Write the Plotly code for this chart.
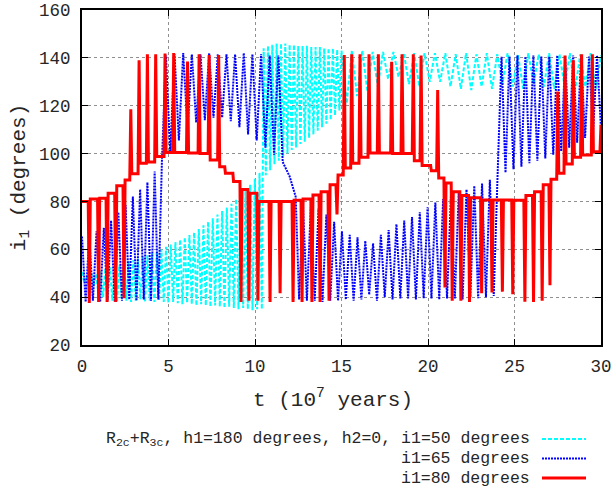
import plotly.graph_objects as go

# ---------------- data ----------------
x_ticks = [0, 5, 10, 15, 20, 25, 30]
y_ticks = [20, 40, 60, 80, 100, 120, 140, 160]

# i1 = 50 degrees (cyan): oscillation extremes per segment
cyan1_t0, cyan1_dt = 0.0, 0.135
cyan1_peaks = [50.5, 49, 50, 49.5, 51, 52, 52.5, 53, 53.5, 54, 55, 55.5, 56, 57, 57.5,
               58.5, 59, 60, 61, 62, 63, 64, 65, 66, 67, 68.5, 70, 71.5, 73, 74.5,
               76, 77.5, 79, 81, 83, 85, 87, 89.5, 92]
cyan1_troughs = [46, 44.5, 45, 42, 40, 39, 38.5, 38, 39, 38.5, 38, 38.5, 39, 38, 38.5,
                 38, 38.5, 38, 37.5, 38, 37.5, 37, 37.5, 37, 36.5, 37, 36.5, 36, 36.5, 36,
                 35.5, 36, 35.5, 35, 35.5, 35, 34.5, 35, 35]
cyan2_t0, cyan2_dt = 10.5, 0.125
cyan2_peaks = [144, 145, 145.5, 146, 146, 146, 145.5, 145.5, 145, 145, 145, 144.5,
               144.5, 144.5, 144, 144, 144, 143.5, 143]
cyan2_troughs = [91, 93, 95.5, 97, 99, 100, 101.5, 102.5, 104, 105, 106.5, 108, 109.5,
                 111, 112.5, 114, 116, 118]
cyan3_t0, cyan3_dt = 15.3, 0.3
cyan3_troughs = [121, 124, 126, 128, 131, 132, 129, 128, 130]
cyan3_peaks = [143, 143, 142.5, 142.5, 142.5, 142, 142, 142, 142]
cyan4_t0, cyan4_dt = 20.7, 0.3
cyan4_troughs = [130, 128, 127, 126.5, 128, 127, 129, 128, 127, 129, 128, 127, 128,
                 126.5, 128, 127]
cyan4_peaks = [142, 141.5, 142, 141.5, 142, 141.5, 142, 141.5, 142, 141.5, 142, 141.5,
               142, 141.5, 142, 141]

# i1 = 65 degrees (blue)
blue1_t0, blue1_dt = 0.0, 0.21
blue1_peaks = [65.3, 66, 67.5, 69, 72, 75.5, 78.5, 82, 85, 88, 92.5, 97]
blue1_troughs = [38, 38.5, 38, 38.5, 38, 38.5, 39, 38.5, 39, 38.5, 39]
blue2_t0, blue2_dt = 4.85, 0.25
blue2_peaks = [141, 141.5, 142, 141.5, 141.5, 142, 141.5, 141.5, 141.5, 142, 141.5,
               141.5, 141, 141]
blue2_troughs = [100, 105.5, 110, 113, 114, 115, 115, 113.5, 111, 108, 105.5, 102.5,
                 99.5, 96.5]
blue_link1_t = [12.0, 12.35]
blue_link1_i = [90.5, 82]
blue4_t0, blue4_dt = 12.55, 0.225
blue4_troughs = [39, 38.5, 38.5, 38, 38.5, 38.5, 39, 38.5, 39, 41, 38.5, 40, 39, 39.5,
                 39.5, 39, 39.5, 39.5, 39, 39.5, 39.5, 39, 40, 39.5, 40, 40.5]
blue4_peaks = [78.5, 77.5, 77, 74.5, 71.5, 67.5, 66, 65, 63.5, 62.5, 66, 68, 70.5, 72,
               73.5, 75.5, 77.5, 79.5, 81, 82, 83.5, 85, 86.5, 87.5, 89]
blue_link2_t = [24.02]
blue_link2_i = [90.5]
blue5_t0, blue5_dt = 24.25, 0.23
blue5_peaks = [140.5, 140.5, 141, 140.5, 141, 140.5, 140.5, 141, 140.5, 141, 141,
               140.5, 141]
blue5_troughs = [92, 93.5, 94.5, 96, 97, 98, 99.5, 101, 102.5, 104.5, 106.5, 108.5, 110]

# i1 = 80 degrees (red): vertices of the curve
red_t = [0.0, 0.36, 0.42, 0.48, 0.90, 0.96, 1.02, 1.39, 1.45, 1.51, 1.89, 1.95, 2.01,
         2.37, 2.43, 2.49, 2.76, 2.82, 2.88, 3.24, 3.30, 3.36, 3.72, 3.78, 3.84,
         4.20, 4.26, 4.32, 4.74, 4.80, 4.86, 5.24, 5.30, 5.36, 6.04, 6.10, 6.16,
         6.71, 6.77, 6.83, 7.29, 7.35, 7.41, 7.84, 7.90, 7.96, 8.25, 8.29, 8.72, 8.76,
         9.13, 9.19, 9.25, 9.59, 9.65, 9.71, 10.11, 10.17, 10.23, 10.81, 10.87, 10.93,
         11.39, 11.45, 11.51, 12.14, 12.20, 12.26, 12.66, 12.72, 12.78, 13.23, 13.29,
         13.35, 13.70, 13.76, 13.82, 14.22, 14.28, 14.34, 14.68, 14.74, 14.80,
         15.10, 15.16, 15.22, 15.53, 15.59, 15.65, 16.01, 16.07, 16.13, 16.53, 16.59,
         16.65, 17.07, 17.13, 17.19, 17.84, 17.90, 17.96, 18.44, 18.50, 18.56,
         19.09, 19.15, 19.21, 19.54, 19.60, 19.66, 20.15, 20.19, 20.50, 20.56, 20.62,
         20.92, 20.98, 21.04, 21.34, 21.40, 21.46, 21.84, 21.90, 21.96, 22.34, 22.40,
         22.46, 23.04, 23.10, 23.16, 23.64, 23.70, 23.76, 24.24, 24.30, 24.36,
         24.84, 24.90, 24.96, 25.54, 25.60, 25.66, 26.04, 26.10, 26.16, 26.54, 26.60,
         26.66, 26.99, 27.05, 27.11, 27.44, 27.50, 27.56, 27.86, 27.92, 27.98,
         28.34, 28.40, 28.46, 28.82, 28.88, 28.94, 29.44, 29.50, 29.56, 29.94, 30.0]
red_i = [80, 80, 37.6, 81, 81, 38, 81.3, 81.3, 38, 83.4, 83.4, 38, 86.5,
         86.5, 39.5, 89, 89, 118.5, 91.6, 91.6, 139, 96, 96, 141.5, 96.5,
         96.5, 141.5, 98.8, 98.8, 141.8, 100.4, 100.4, 142, 100.4, 100.4, 138.5, 100.2,
         100.2, 141.5, 100, 100, 141.2, 97.3, 97.3, 141.2, 94.5, 94.5, 91.8, 91.8, 88.3,
         88.3, 38, 85, 85, 38.5, 83.4, 83.4, 38.5, 80, 80, 38, 80,
         80, 41.6, 80, 80, 38, 80.5, 80.5, 38, 81, 81, 38,
         82.7, 82.7, 38, 84, 84, 38.5, 87, 87, 74.6, 91,
         91, 141.2, 94, 94, 141.5, 96, 96, 141.5, 98.5, 98.5, 141.5,
         100.2, 100.2, 141.5, 100.2, 100.2, 138.4, 100, 100, 141.5, 100,
         100, 141.5, 97, 97, 141, 95, 95, 92.8, 92.8, 126.6, 89.8,
         89.8, 44, 87.7, 87.7, 38.5, 84, 84, 38.5, 82.5, 82.5, 38,
         81.5, 81.5, 41.6, 80.6, 80.6, 42, 80.6, 80.6, 42.3, 80.6,
         80.6, 41.2, 80.5, 80.5, 38.1, 82.5, 82.5, 38, 84, 84, 38.5,
         87, 87, 45, 89.3, 89.3, 125.9, 91.8, 91.8, 141, 95.6,
         95.6, 139, 98.5, 98.5, 141.5, 99.4, 99.4, 141.5, 100.8, 100.8, 112]

legend_labels = ["R<sub>2c</sub>+R<sub>3c</sub>, h1=180 degrees, h2=0, i1=50 degrees",
                 "i1=65 degrees", "i1=80 degrees"]
colors = ["#00ffff", "#0000ff", "#ff0000"]


# ---------------- assemble the curves ----------------
def alternate(t0, dt, first, second):
    vals = []
    for k in range(len(first) + len(second)):
        vals.append(first[k // 2] if k % 2 == 0 else second[k // 2])
    ts = [t0 + dt * k for k in range(len(vals))]
    return ts, vals


cyan_t, cyan_i = [], []
for seg in [alternate(cyan1_t0, cyan1_dt, cyan1_peaks, cyan1_troughs),
            alternate(cyan2_t0, cyan2_dt, cyan2_peaks, cyan2_troughs),
            alternate(cyan3_t0, cyan3_dt, cyan3_troughs, cyan3_peaks),
            alternate(cyan4_t0, cyan4_dt, cyan4_troughs, cyan4_peaks)]:
    cyan_t += seg[0]
    cyan_i += seg[1]

blue_t, blue_i = [], []
for seg in [alternate(blue1_t0, blue1_dt, blue1_peaks, blue1_troughs),
            alternate(blue2_t0, blue2_dt, blue2_peaks, blue2_troughs),
            (blue_link1_t, blue_link1_i),
            alternate(blue4_t0, blue4_dt, blue4_troughs, blue4_peaks),
            (blue_link2_t, blue_link2_i),
            alternate(blue5_t0, blue5_dt, blue5_peaks, blue5_troughs)]:
    blue_t += seg[0]
    blue_i += seg[1]

FONT = "Liberation Mono"
TXT = "#262626"
styles = [dict(color=colors[0], width=2, dash="4px,2px"),
          dict(color=colors[1], width=2, dash="2px,1px"),
          dict(color=colors[2], width=3)]

fig = go.Figure()
for (tx, iy), st in zip([(cyan_t, cyan_i), (blue_t, blue_i), (red_t, red_i)], styles):
    fig.add_trace(go.Scatter(x=tx, y=iy, mode="lines", line=st, showlegend=False,
                             hoverinfo="skip"))

# legend drawn below the plot (text right-aligned, sample on the right)
PL, PR, PT, PB = 82, 601, 10, 345
W = PR - PL
H = PB - PT
rows_px = [439, 458.5, 478]
for lab, st, ry in zip(legend_labels, styles, rows_px):
    yp = (PB - ry) / H
    fig.add_annotation(x=(531 - PL) / W, y=yp, xref="paper", yref="paper",
                       text=lab, showarrow=False, xanchor="right", yanchor="middle",
                       borderpad=0,
                       font=dict(family=FONT, size=16.5, color=TXT))
    fig.add_shape(type="line", xref="paper", yref="paper",
                  x0=(542 - PL) / W, x1=(586 - PL) / W, y0=yp, y1=yp,
                  line=st)

# x-axis title (placed as in the reference, slightly left of centre)
fig.add_annotation(x=(333 - PL) / W, y=(PB - 398) / H, xref="paper", yref="paper",
                   text="t (10<sup>7</sup> years)", showarrow=False,
                   xanchor="center", yanchor="middle",
                   font=dict(family=FONT, size=21, color=TXT))

axis_common = dict(showline=True, linecolor="black", linewidth=2, mirror="ticks",
                   ticks="inside", ticklen=6, tickcolor="black", tickwidth=1,
                   showgrid=True, gridcolor="#909090", griddash="dot", gridwidth=1,
                   zeroline=False, tickfont=dict(family=FONT, size=17.5, color=TXT))

fig.update_xaxes(range=[0, 30], tickvals=x_ticks, ticklabelstandoff=4, **axis_common)
fig.update_yaxes(range=[20, 160], tickvals=y_ticks, ticklabelstandoff=6,
                 title=dict(text="i<sub>1</sub> (degrees)", standoff=8,
                            font=dict(family=FONT, size=21, color=TXT)),
                 **axis_common)

fig.update_layout(width=614, height=488,
                  margin=dict(l=PL, r=614 - PR, t=PT, b=488 - PB, autoexpand=False),
                  paper_bgcolor="white", plot_bgcolor="white", showlegend=False,
                  font=dict(family=FONT, size=17.5, color=TXT))

fig.write_html("out.html")
